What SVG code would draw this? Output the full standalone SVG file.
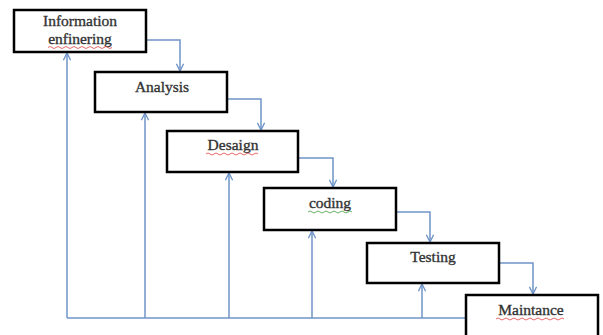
<svg xmlns="http://www.w3.org/2000/svg" width="603" height="335" viewBox="0 0 603 335">
<style>
.box{fill:#fff;stroke:#000;stroke-width:2.5}
.lbl{font-family:"Liberation Serif","Times New Roman",serif;font-size:15.5px;fill:#333;stroke:#333;stroke-width:0.35;text-anchor:middle}
.con{fill:none;stroke:#6f94c8;stroke-width:1.5}
.red{fill:none;stroke:#e04040;stroke-width:0.8}
.grn{fill:none;stroke:#40a040;stroke-width:0.8}
</style>
<defs>
<marker id="arr" viewBox="0 0 10 10" refX="9" refY="5" markerWidth="9" markerHeight="9" orient="auto" markerUnits="userSpaceOnUse">
<polyline points="1,1 9,5 1,9" fill="none" stroke="#6f94c8" stroke-width="1.5"/>
</marker>
</defs>
<rect width="603" height="335" fill="#fff"/>
<g id="connectors">
<polyline class="con" points="146,40 180,40 180,71" marker-end="url(#arr)"/>
<polyline class="con" points="227,99 261,99 261,130" marker-end="url(#arr)"/>
<polyline class="con" points="298,158 333,158 333,187" marker-end="url(#arr)"/>
<polyline class="con" points="396,212 430,212 430,242" marker-end="url(#arr)"/>
<polyline class="con" points="499,263 533,263 533,294" marker-end="url(#arr)"/>
<polyline class="con" points="466,318 67,318"/>
<line class="con" x1="67" y1="318" x2="67" y2="53" marker-end="url(#arr)"/>
<line class="con" x1="145" y1="318" x2="145" y2="113" marker-end="url(#arr)"/>
<line class="con" x1="229" y1="318" x2="229" y2="173" marker-end="url(#arr)"/>
<line class="con" x1="312" y1="318" x2="312" y2="231" marker-end="url(#arr)"/>
<line class="con" x1="422" y1="318" x2="422" y2="284" marker-end="url(#arr)"/>
</g>
<g id="n1">
<rect class="box" x="14" y="10" width="132" height="42"/>
<text class="lbl" x="80" y="26">Information</text>
<text class="lbl" x="80" y="44">enfinering</text>
<path class="red" d="M48,47.5 q2,-2 4,0 t4,0 t4,0 t4,0 t4,0 t4,0 t4,0 t4,0 t4,0 t4,0 t4,0 t4,0 t4,0 t4,0 t4,0 t4,0"/>
</g>
<g id="n2">
<rect class="box" x="95" y="72" width="132" height="40"/>
<text class="lbl" x="162" y="92">Analysis</text>
</g>
<g id="n3">
<rect class="box" x="167" y="131" width="131" height="41"/>
<text class="lbl" x="233" y="150">Desaign</text>
<path class="red" d="M206,154 q2,-2 4,0 t4,0 t4,0 t4,0 t4,0 t4,0 t4,0 t4,0 t4,0 t4,0 t4,0 t4,0 t4,0"/>
</g>
<g id="n4">
<rect class="box" x="264" y="188" width="132" height="42"/>
<text class="lbl" x="330" y="208">coding</text>
<path class="grn" d="M308,212 q2,-2 4,0 t4,0 t4,0 t4,0 t4,0 t4,0 t4,0 t4,0 t4,0 t4,0 t4,0"/>
</g>
<g id="n5">
<rect class="box" x="367" y="243" width="132" height="40"/>
<text class="lbl" x="433" y="262">Testing</text>
</g>
<g id="n6">
<rect class="box" x="466" y="295" width="132" height="44"/>
<text class="lbl" x="531" y="315">Maintance</text>
<path class="red" d="M496,319 q2,-2 4,0 t4,0 t4,0 t4,0 t4,0 t4,0 t4,0 t4,0 t4,0 t4,0 t4,0 t4,0 t4,0 t4,0 t4,0 t4,0 t4,0"/>
</g>
</svg>
